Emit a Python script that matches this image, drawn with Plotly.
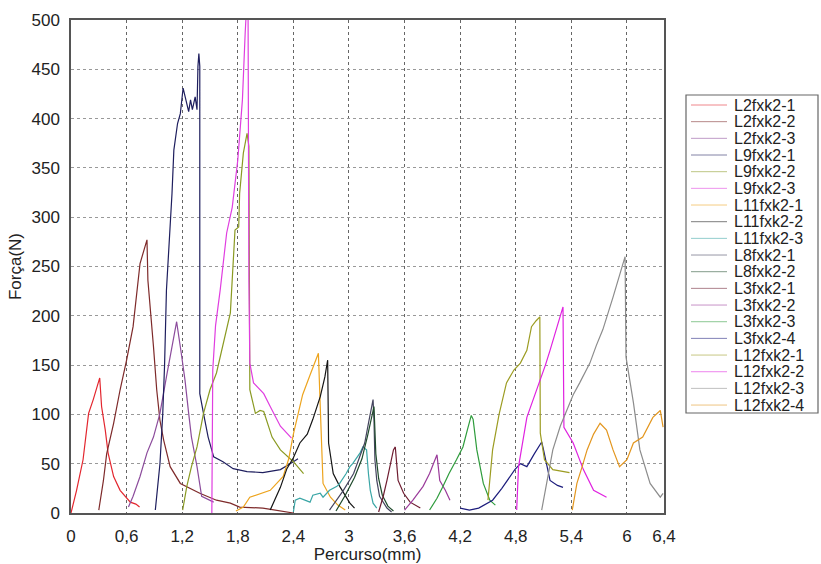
import plotly.graph_objects as go

# ---------------- data ----------------
names = ["L2fxk2-1", "L2fxk2-2", "L2fxk2-3", "L9fxk2-1", "L9fxk2-2", "L9fxk2-3",
         "L11fxk2-1", "L11fxk2-2", "L11fxk2-3", "L8fxk2-1", "L8fxk2-2",
         "L3fxk2-1", "L3fxk2-2", "L3fxk2-3", "L3fxk2-4",
         "L12fxk2-1", "L12fxk2-2", "L12fxk2-3", "L12fxk2-4"]

colors = ["#e3262e", "#7e2a2a", "#8c4c9c", "#1e1e5e", "#8a9a22", "#e03ee0",
          "#eda41e", "#151515", "#3aa6a6", "#44445e", "#1f4a2c",
          "#6e1c30", "#9a3a9a", "#2e9c3c", "#1c1c7c",
          "#9c9c22", "#e022e0", "#8c8c8c", "#e3961e"]

L2_1_x = [0, 0.06, 0.13, 0.19, 0.24, 0.28, 0.31, 0.33, 0.37, 0.40, 0.46, 0.53, 0.64, 0.70, 0.74]
L2_1_y = [0, 23, 54, 101, 115, 128, 137, 108, 84, 61, 37, 23, 11, 9, 6]

L2_2_x = [0.30, 0.35, 0.385, 0.46, 0.53, 0.60, 0.67, 0.745, 0.82, 0.83, 0.89, 0.925, 0.96, 1.0,
          1.07, 1.18, 1.39, 1.57, 1.72, 1.82, 2.07, 2.40]
L2_2_y = [3, 33, 60, 91, 125, 155, 189, 253, 277, 236, 169, 125, 94, 74,
          47, 30, 20, 13, 10, 6, 5, 0]

L2_3_x = [0.62, 0.67, 0.745, 0.82, 0.89, 0.96, 1.03, 1.09, 1.14, 1.19, 1.23, 1.27, 1.30, 1.36,
          1.41, 1.54]
L2_3_y = [6, 17, 37, 61, 77, 101, 138, 169, 194, 162, 135, 101, 77, 47, 17, 11]

L9_1_x = [0.91, 0.96, 0.99, 1.01, 1.03, 1.05, 1.07, 1.09, 1.11, 1.15, 1.18, 1.21, 1.24, 1.27,
          1.29, 1.31, 1.34, 1.36, 1.37, 1.38, 1.39, 1.39, 1.43, 1.48, 1.54, 1.64, 1.75, 1.90,
          2.07, 2.26, 2.40, 2.45]
L9_1_y = [3, 50, 100, 150, 226, 260, 284, 324, 368, 395, 405, 431, 419, 407,
          419, 409, 422, 409, 453, 466, 453, 121, 101, 77, 57, 52, 45, 42,
          41, 44, 52, 55]

L9_2_x = [1.205, 1.25, 1.30, 1.36, 1.43, 1.50, 1.57, 1.64, 1.72, 1.77, 1.81, 1.82, 1.86, 1.90,
          1.92, 1.93, 1.99, 2.04, 2.08, 2.17, 2.26, 2.40, 2.51]
L9_2_y = [3, 27, 47, 67, 101, 125, 142, 169, 203, 287, 290, 324, 365, 385,
          372, 125, 101, 104, 103, 77, 64, 52, 40]

L9_3_x = [1.52, 1.525, 1.53, 1.56, 1.61, 1.68, 1.74, 1.80, 1.85, 1.88, 1.91, 1.92, 1.93, 1.97,
          2.08, 2.15, 2.26, 2.38]
L9_3_y = [0, 60, 145, 190, 226, 284, 310, 358, 419, 487, 540, 236, 152, 132,
          121, 108, 88, 76]

L11_1_x = [1.78, 1.86, 1.93, 2.05, 2.15, 2.22, 2.29, 2.35, 2.40, 2.45, 2.50, 2.58, 2.67, 2.69,
           2.71, 2.72, 2.80, 2.88, 2.96]
L11_1_y = [2, 6, 16, 20, 23, 30, 37, 55, 80, 100, 120, 140, 162, 108,
           60, 30, 16, 8, 3]

L11_2_x = [2.15, 2.26, 2.33, 2.40, 2.47, 2.55, 2.61, 2.69, 2.74, 2.77, 2.78, 2.83, 2.90, 2.97, 3.01, 3.06]
L11_2_y = [3, 26, 45, 56, 71, 80, 95, 118, 138, 155, 71, 40, 27, 17, 10, 5]

L11_3_x = [2.40, 2.42, 2.47, 2.58, 2.61, 2.69, 2.72, 2.79, 2.87, 2.90, 2.97, 3.01, 3.04, 3.12,
           3.15, 3.19, 3.21, 3.23, 3.26, 3.30]
L11_3_y = [1, 13, 15, 11, 18, 20, 16, 23, 27, 30, 40, 47, 50, 61,
           67, 64, 40, 23, 10, 5]

L8_1_x = [2.79, 2.94, 3.05, 3.12, 3.17, 3.21, 3.23, 3.26, 3.27, 3.28, 3.30, 3.33, 3.41, 3.46]
L8_1_y = [3, 23, 40, 57, 71, 91, 101, 115, 94, 54, 33, 17, 5, 1]

L8_2_x = [2.86, 2.96, 3.06, 3.14, 3.20, 3.24, 3.27, 3.29, 3.32, 3.36, 3.42, 3.48]
L8_2_y = [2, 18, 36, 55, 78, 96, 108, 60, 35, 18, 7, 2]

L3_1_x = [3.32, 3.37, 3.41, 3.44, 3.48, 3.50, 3.51, 3.53, 3.59, 3.66, 3.77]
L3_1_y = [1, 17, 33, 47, 64, 67, 54, 33, 20, 11, 5]

L3_2_x = [3.60, 3.69, 3.80, 3.87, 3.92, 3.95, 3.98, 4.04, 4.09]
L3_2_y = [3, 13, 27, 40, 52, 59, 33, 23, 13]

L3_3_x = [3.87, 3.95, 4.01, 4.08, 4.16, 4.23, 4.28, 4.32, 4.34, 4.38, 4.45, 4.52, 4.58]
L3_3_y = [3, 15, 26, 40, 54, 67, 85, 99, 95, 64, 30, 13, 8]

L3_4_x = [4.20, 4.30, 4.40, 4.55, 4.65, 4.79, 4.85, 4.92, 5.00, 5.08, 5.10, 5.17, 5.25, 5.31]
L3_4_y = [5, 3, 5, 13, 25, 44, 50, 47, 60, 72, 64, 33, 28, 26]

L12_1_x = [4.50, 4.55, 4.62, 4.70, 4.78, 4.85, 4.92, 4.97, 5.02, 5.06, 5.065, 5.11, 5.20, 5.30, 5.38]
L12_1_y = [13, 64, 100, 132, 145, 152, 165, 189, 195, 199, 81, 54, 44, 42, 41]

L12_2_x = [4.81, 4.83, 4.92, 5.00, 5.06, 5.12, 5.17, 5.25, 5.31, 5.32, 5.42, 5.53, 5.64, 5.78]
L12_2_y = [3, 47, 97, 118, 132, 150, 165, 190, 209, 87, 71, 44, 23, 16]

L12_3_x = [5.08, 5.14, 5.20, 5.28, 5.35, 5.42, 5.49, 5.60, 5.67, 5.74, 5.85, 5.92, 5.98, 5.99,
           6.07, 6.14, 6.25, 6.36, 6.39]
L12_3_y = [3, 35, 64, 88, 104, 120, 132, 152, 170, 186, 219, 240, 260, 158,
           112, 64, 30, 16, 20]

L12_4_x = [5.41, 5.46, 5.52, 5.57, 5.64, 5.71, 5.78, 5.85, 5.92, 6.00, 6.07, 6.17, 6.28, 6.36, 6.39]
L12_4_y = [3, 30, 48, 64, 80, 91, 84, 64, 47, 54, 71, 77, 97, 104, 87]

xs = [L2_1_x, L2_2_x, L2_3_x, L9_1_x, L9_2_x, L9_3_x, L11_1_x, L11_2_x, L11_3_x, L8_1_x, L8_2_x,
      L3_1_x, L3_2_x, L3_3_x, L3_4_x, L12_1_x, L12_2_x, L12_3_x, L12_4_x]
ys = [L2_1_y, L2_2_y, L2_3_y, L9_1_y, L9_2_y, L9_3_y, L11_1_y, L11_2_y, L11_3_y, L8_1_y, L8_2_y,
      L3_1_y, L3_2_y, L3_3_y, L3_4_y, L12_1_y, L12_2_y, L12_3_y, L12_4_y]

x_tickvals = [0, 0.6, 1.2, 1.8, 2.4, 3, 3.6, 4.2, 4.8, 5.4, 6, 6.4]
x_ticktext = ["0", "0,6", "1,2", "1,8", "2,4", "3", "3,6", "4,2", "4,8", "5,4", "6", "6,4"]
y_tickvals = [0, 50, 100, 150, 200, 250, 300, 350, 400, 450, 500]

# ---------------- figure ----------------
W, H = 821, 564
L, R, T, B = 71, 664, 20, 513
FONT = "Liberation Sans, Arial, sans-serif"

fig = go.Figure()
for n, c, x, y in zip(names, colors, xs, ys):
    fig.add_trace(go.Scatter(x=x, y=y, mode="lines", name=n,
                             line=dict(color=c, width=1.2), showlegend=False))

fig.update_layout(
    width=W, height=H,
    margin=dict(l=L, r=W - R, t=T, b=H - B, pad=0, autoexpand=False),
    paper_bgcolor="white", plot_bgcolor="white",
    font=dict(family=FONT, size=17, color="#222"),
)
fig.update_xaxes(range=[0, 6.4], tickvals=x_tickvals, ticktext=x_ticktext,
                 showgrid=True, gridcolor="#666", griddash="dot", gridwidth=1,
                 showline=True, linecolor="#555", linewidth=1.5, mirror=True,
                 zeroline=False, ticks="", ticklabelstandoff=7, automargin=False,
                 tickfont=dict(size=17),
                 title=dict(text="Percurso(mm)", font=dict(size=17), standoff=14))
fig.update_yaxes(range=[0, 500], tickvals=y_tickvals,
                 showgrid=True, gridcolor="#999", griddash="dot", gridwidth=1,
                 showline=True, linecolor="#555", linewidth=1.5, mirror=True,
                 zeroline=False, ticks="", ticklabelstandoff=6, automargin=False,
                 tickfont=dict(size=17),
                 title=dict(text="Força(N)", font=dict(size=17), standoff=6))

# ---------------- custom legend (paper coordinates) ----------------
pw, ph = R - L, B - T
def px(p):
    return (p - L) / pw
def py(p):
    return (B - p) / ph

box_l, box_r, box_t, box_b = 686, 818, 95, 413
fig.add_shape(type="rect", xref="paper", yref="paper",
              x0=px(box_l), x1=px(box_r), y0=py(box_b), y1=py(box_t),
              line=dict(color="#666", width=1.2), fillcolor="white", layer="above")
first_y, step = 105, 16.67
for i, (n, c) in enumerate(zip(names, colors)):
    yc = first_y + step * i
    fig.add_shape(type="line", xref="paper", yref="paper",
                  x0=px(691), x1=px(727), y0=py(yc), y1=py(yc),
                  line=dict(color=c, width=1), opacity=0.55)
    fig.add_annotation(xref="paper", yref="paper", x=px(732), y=py(yc),
                       text=n, showarrow=False, xanchor="left", yanchor="middle",
                       font=dict(size=16, color="#222", family=FONT))

fig.write_html("out.html")
